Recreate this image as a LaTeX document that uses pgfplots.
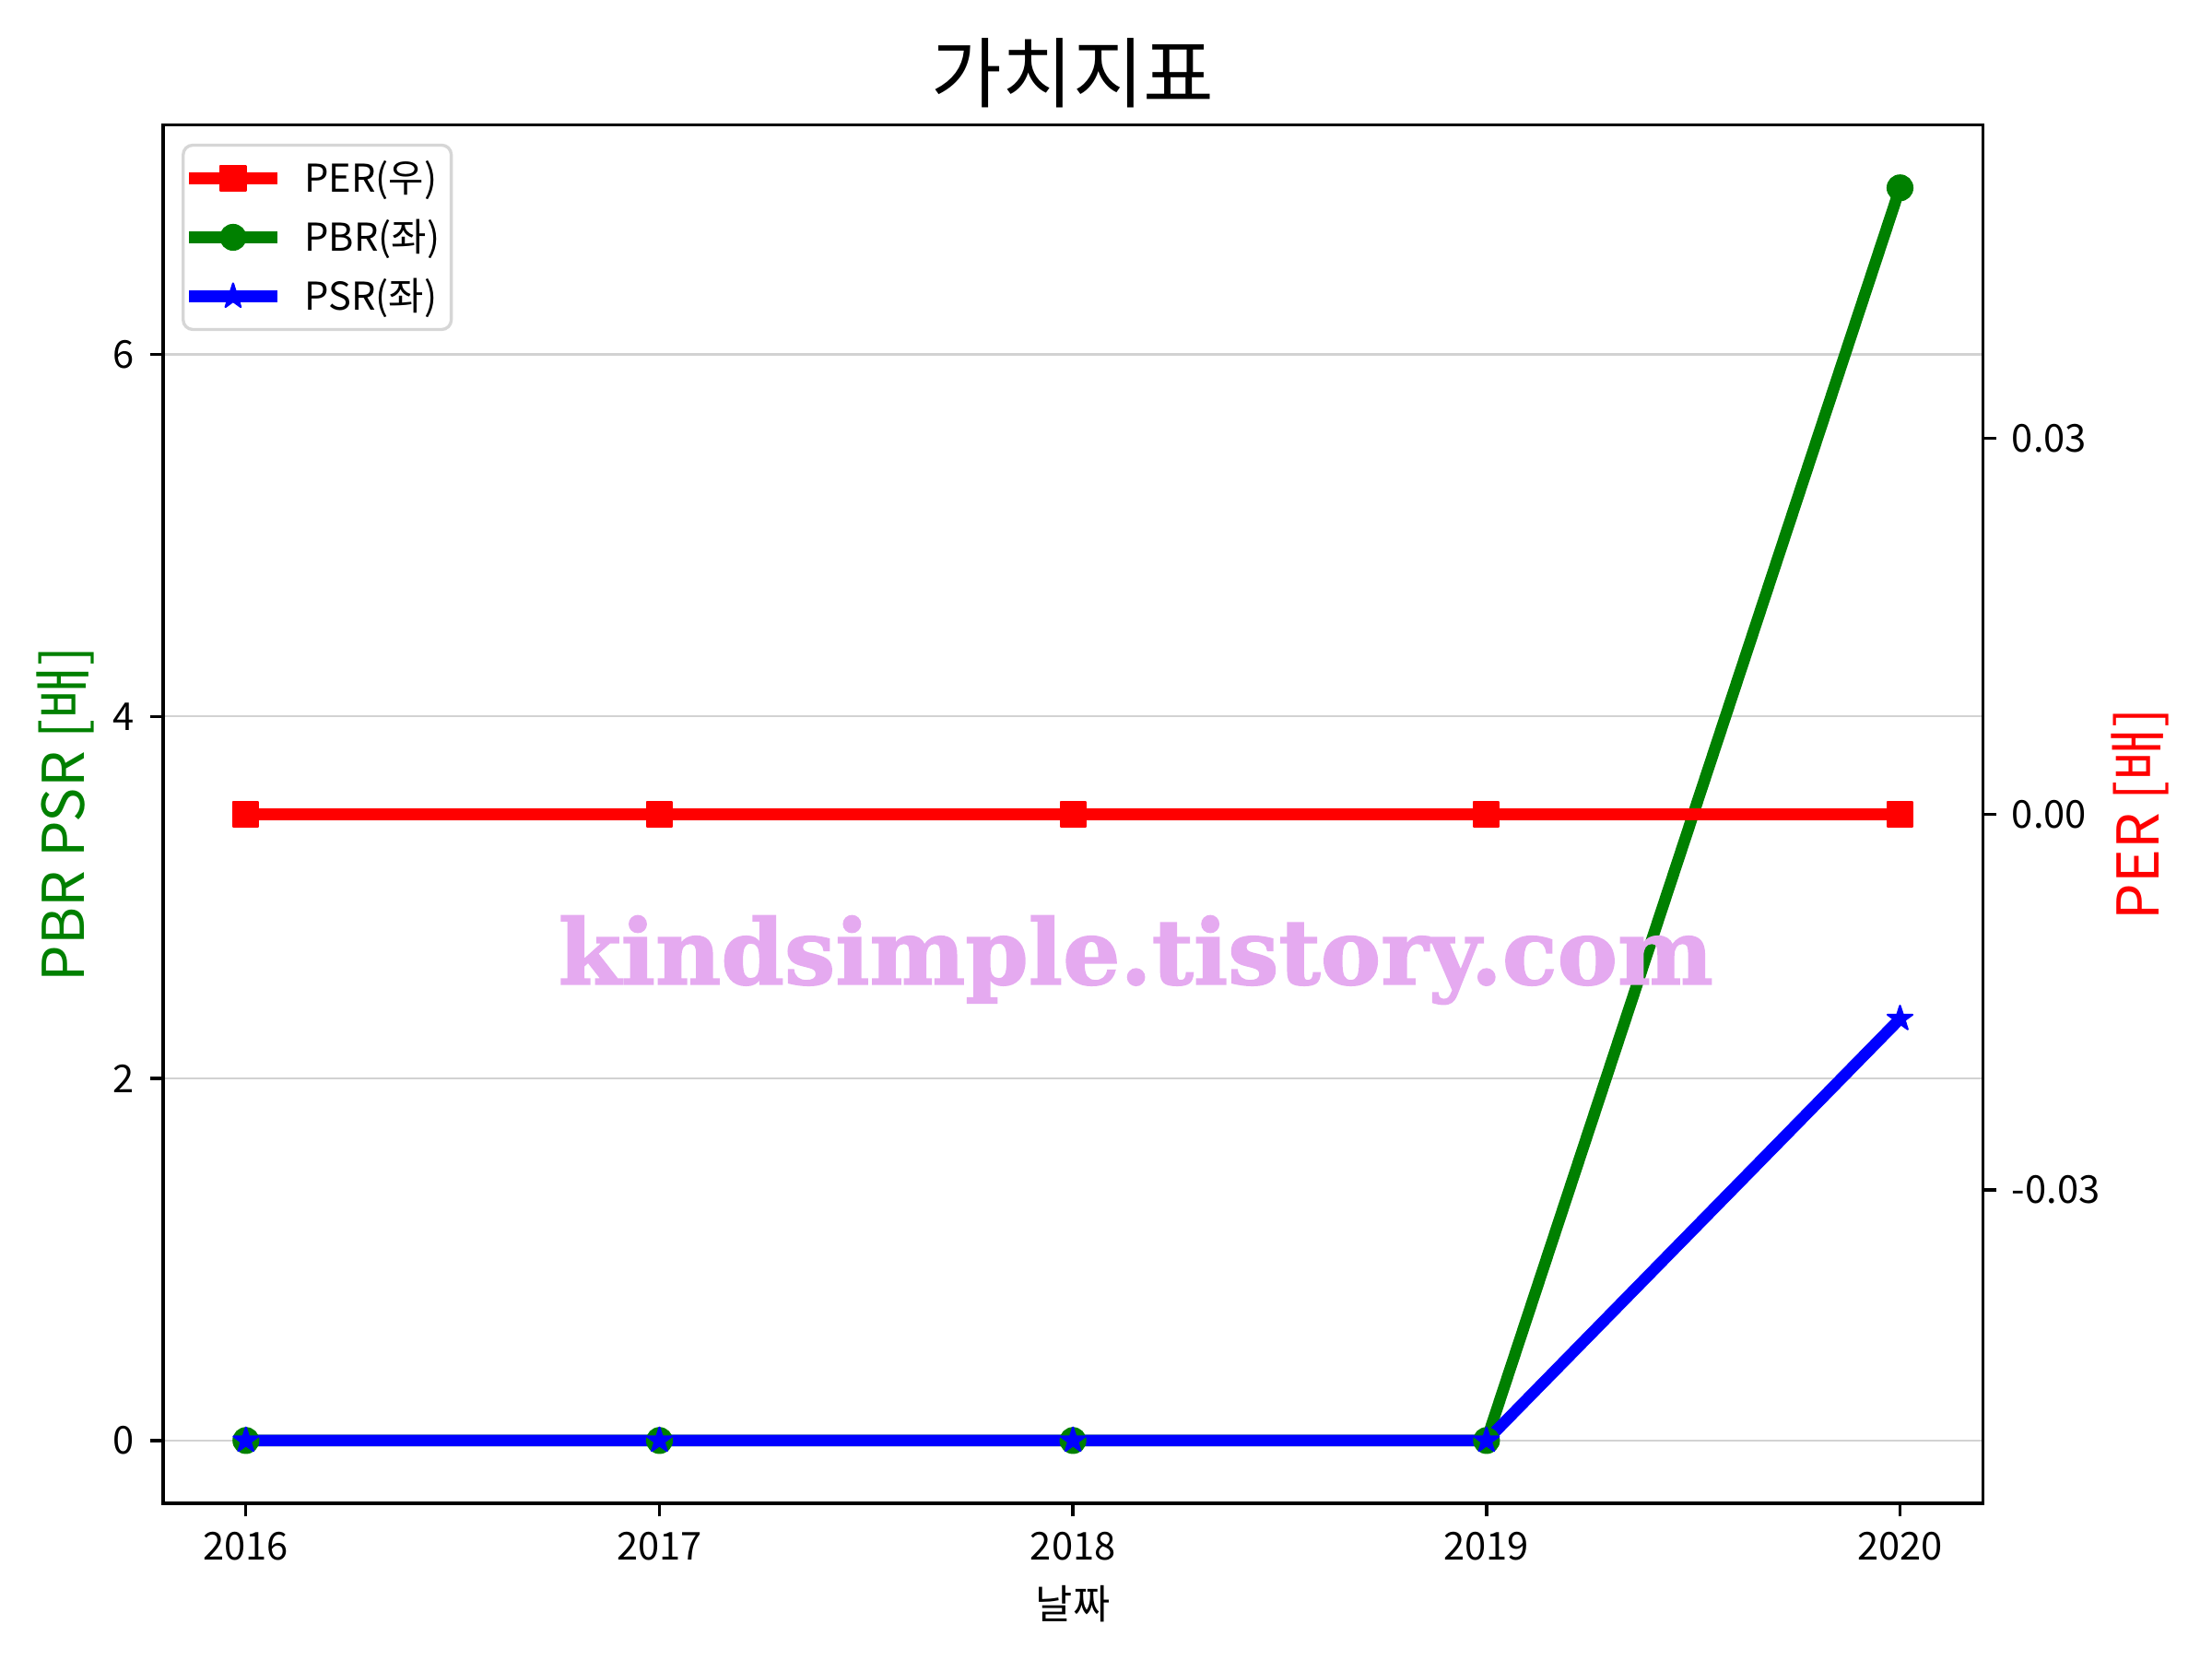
\documentclass[border=0pt]{standalone}
\usepackage{pgfplots}
\pgfplotsset{compat=1.18}
\usepackage{fontspec}
\setmainfont{Noto Sans CJK KR}
\newfontfamily\wmfont{DejaVu Serif}[BoldFeatures={FakeBold=1.5}]
\definecolor{mplgreen}{RGB}{0,128,0}
\definecolor{mplred}{RGB}{255,0,0}
\definecolor{mplblue}{RGB}{0,0,255}
\definecolor{wm}{RGB}{229,170,240}
\definecolor{gridc}{RGB}{210,210,210}
\definecolor{legc}{RGB}{214,214,214}
\pgfdeclareplotmark{fstar}{%
  \pgfpathmoveto{\pgfpointpolar{90}{\pgfplotmarksize}}%
  \pgfpathlineto{\pgfpointpolar{126}{0.382\pgfplotmarksize}}%
  \pgfpathlineto{\pgfpointpolar{162}{\pgfplotmarksize}}%
  \pgfpathlineto{\pgfpointpolar{198}{0.382\pgfplotmarksize}}%
  \pgfpathlineto{\pgfpointpolar{234}{\pgfplotmarksize}}%
  \pgfpathlineto{\pgfpointpolar{270}{0.382\pgfplotmarksize}}%
  \pgfpathlineto{\pgfpointpolar{306}{\pgfplotmarksize}}%
  \pgfpathlineto{\pgfpointpolar{342}{0.382\pgfplotmarksize}}%
  \pgfpathlineto{\pgfpointpolar{18}{\pgfplotmarksize}}%
  \pgfpathlineto{\pgfpointpolar{54}{0.382\pgfplotmarksize}}%
  \pgfpathclose\pgfusepathqfillstroke}
\pgfplotsset{
  common/.style={
    at={(42.5pt,40.6pt)}, anchor=south west,
    scale only axis, width=473.8pt, height=358.8pt,
    xmin=2015.8, xmax=2020.2,
    axis line style={line width=0.8pt},
    tick style={line width=0.8pt, black},
    major tick length=3.5pt,
    tick align=outside,
    scaled ticks=false,
    tick label style={font=\fontsize{10}{12}\selectfont},
  },
  pbrstyle/.style={mplgreen, line width=3pt, line join=round, mark=*, mark size=3.25pt, mark options={solid, fill=mplgreen, line width=0.5pt}},
  psrstyle/.style={mplblue, line width=3pt, line join=round, mark=fstar, mark size=3.4pt, mark options={solid, fill=mplblue, line width=0.5pt}},
  perstyle/.style={mplred, line width=3pt, line join=round, mark=square*, mark size=3.25pt, mark options={solid, fill=mplred, line width=0.5pt}},
}
\begin{document}
\begin{tikzpicture}
\useasboundingbox (0,0) rectangle (576pt,432pt);
\begin{axis}[common,
  ymin=-0.346, ymax=7.266,
  xtick={2016,2017,2018,2019,2020},
  xticklabels={2016,2017,2018,2019,2020},
  ytick={0,2,4,6}, yticklabels={0,2,4,6},
  xtick pos=left, ytick pos=left,
  ymajorgrids, grid style={gridc, line width=0.5pt},
  xticklabel style={anchor=base, inner sep=0pt, yshift=-11.4pt},
  yticklabel style={anchor=east, inner sep=0pt, xshift=-3.9pt},
  xlabel={날짜},
  every axis x label/.style={at={(axis description cs:0.5,-0.0842)}, anchor=base, font=\fontsize{10.5}{12}\selectfont},
  ylabel={PBR PSR [배]},
  every axis y label/.style={at={(axis description cs:-0.0431,0.5)}, rotate=90, anchor=base, text=mplgreen, font=\fontsize{15}{18}\selectfont},
]
\addplot[pbrstyle] coordinates {(2016,0) (2017,0) (2018,0) (2019,0) (2020,6.92)};
\addplot[psrstyle] coordinates {(2016,0) (2017,0) (2018,0) (2019,0) (2020,2.33)};
\end{axis}
\begin{axis}[common,
  ymin=-0.055, ymax=0.055,
  axis x line=none,
  axis y line*=right,
  ytick={-0.03,0,0.03}, yticklabels={-0.03,0.00,0.03},
  yticklabel style={anchor=west, inner sep=0pt, xshift=3.9pt},
  ylabel={PER [배]},
  every axis y label/.style={at={(axis description cs:1.097,0.5)}, rotate=90, anchor=base, text=mplred, font=\fontsize{15}{18}\selectfont},
  legend image code/.code={\draw[mark repeat=2, mark phase=2] plot coordinates {(0pt,0pt) (11.5pt,0pt) (23pt,0pt)};},
  legend style={at={(axis description cs:0,1)}, anchor=north west, xshift=4.8pt, yshift=-4.8pt,
    draw=legc, line width=0.8pt, rounded corners=2.5pt, fill=white,
    inner xsep=0pt, inner ysep=2.6pt,
    font=\fontsize{10}{12}\selectfont,
    nodes={inner sep=0pt, text height=9.6pt, text depth=2.4pt},
    row sep=3.4pt, column sep=5.6pt},
  legend cell align=left,
]
\addplot[perstyle] coordinates {(2016,0) (2017,0) (2018,0) (2019,0) (2020,0)};
\addlegendentry{PER(우)\kern3pt\null}
\addlegendimage{pbrstyle}
\addlegendentry{PBR(좌)\kern3pt\null}
\addlegendimage{psrstyle}
\addlegendentry{PSR(좌)\kern3pt\null}
\end{axis}
\node[anchor=base, inner sep=0pt, font=\fontsize{20}{24}\selectfont] at (279.4pt,405.4pt) {가치지표};
\node[anchor=base west, text=wm, inner sep=0pt] at (145.2pt,175.7pt) {\resizebox{300.7pt}{!}{\wmfont\bfseries kindsimple.tistory.com}};
\end{tikzpicture}
\end{document}
